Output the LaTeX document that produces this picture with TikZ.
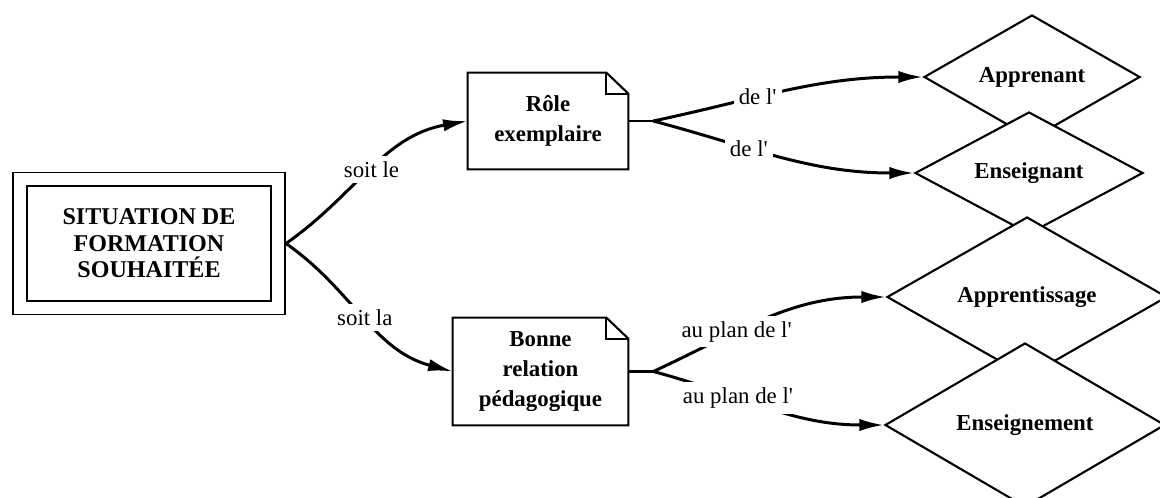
\documentclass[tikz,border=0pt]{standalone}
\usepackage{fontspec}
\setmainfont{Liberation Serif}
\usepackage{tikz}
\usetikzlibrary{shapes.geometric,arrows.meta}
\pgfdeclarelayer{bg}
\pgfsetlayers{bg,main}

\tikzset{
        box/.style={align=center, inner sep=0pt, font=\fontsize{13}{17}\selectfont\bfseries},
        goal/.style={diamond, draw, fill=white, line width=1.2pt, aspect=1.8, inner sep=0pt,
                font=\fontsize{13}{15}\selectfont\bfseries},
        link/.style={line width=1.7pt, -{Latex[length=14pt,width=7pt]}},
        lbl/.style={fill=white, inner sep=3pt, font=\fontsize{13}{15}\selectfont}
}

% page with the folded top right corner
\newcommand{\dogear}[1]{
        \draw[line width=1.2pt] (#1.north west) -- ([xshift=-0.44cm]#1.north east)
                -- ([yshift=-0.42cm]#1.north east) -- (#1.south east) -- (#1.south west) -- cycle;
        \draw[line width=1.2pt] ([xshift=-0.44cm]#1.north east) |- ([yshift=-0.42cm]#1.north east);
}

\begin{document}
\begin{tikzpicture}
        \useasboundingbox (0,0) rectangle (23.2cm,-9.96cm);
        \node (sit) [box, draw, double, double distance=0.24cm, line width=1.1pt,
                minimum width=5.16cm, minimum height=2.56cm, outer sep=0.16cm,
                font=\fontsize{13.7}{15}\selectfont\bfseries] at (2.98cm, -4.87cm)
                {SITUATION DE\\FORMATION\\SOUHAITÉE};
        \node (role) [box, minimum width=3.2cm, minimum height=1.92cm] at (10.96cm, -2.42cm)
                {Rôle\\exemplaire};
        \node (bonne) [box, minimum width=3.5cm, minimum height=2.14cm] at (10.81cm, -7.43cm)
                {Bonne\\relation\\pédagogique};
        \dogear{role}
        \dogear{bonne}
        \node (appr) [goal, minimum width=4.32cm, minimum height=2.48cm] at (20.64cm, -1.54cm) {Apprenant};
        \node (ens) [goal, minimum width=4.56cm, minimum height=2.44cm] at (20.58cm, -3.46cm) {Enseignant};
        \node (apps) [goal, minimum width=5.6cm, minimum height=3.2cm] at (20.54cm, -5.94cm) {Apprentissage};
        \node (ensm) [goal, minimum width=5.6cm, minimum height=3.28cm] at (20.5cm, -8.5cm) {Enseignement};
        \coordinate (rolefork) at ([xshift=0.5cm]role.east);
        \coordinate (bonnefork) at ([xshift=0.5cm]bonne.east);
        \begin{pgfonlayer}{bg}
                \draw (sit.east) edge [link, out=35, in=190] node [lbl] {soit le} (role.west);
                \draw (sit.east) edge [link, out=-35, in=165] node [lbl] {soit la} (bonne.west);
                \draw [line width=1.2pt] (role.east) -- (rolefork);
                \draw (rolefork) edge [link, out=12, in=180] node [lbl, pos=0.38] {de l\textquotesingle} (appr.west);
                \draw (rolefork) edge [link, out=-15, in=180] node [lbl, pos=0.36] {de l\textquotesingle} (ens.west);
                \draw [line width=1.2pt] (bonne.east) -- (bonnefork);
                \draw (bonnefork) edge [link, out=25, in=180] node [lbl, pos=0.36] {au plan de l\textquotesingle} (apps.west);
                \draw (bonnefork) edge [link, out=-15, in=180] node [lbl, pos=0.36] {au plan de l\textquotesingle} (ensm.west);
        \end{pgfonlayer}
\end{tikzpicture}
\end{document}
